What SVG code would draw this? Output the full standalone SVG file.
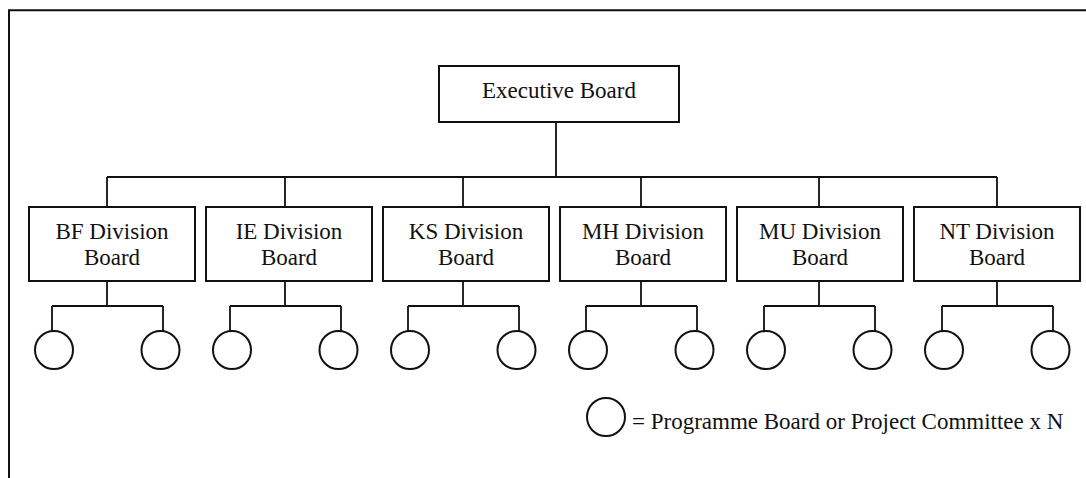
<svg xmlns="http://www.w3.org/2000/svg" width="1086" height="478" viewBox="0 0 1086 478">
  <style>
    text { font-family: "Liberation Serif", "Times New Roman", "DejaVu Serif", serif; font-size: 23px; fill: #111; text-anchor: middle; }
    .box { fill: #fff; stroke: #111; stroke-width: 2; }
    .link { fill: none; stroke: #111; stroke-width: 1.8; }
    .unit { fill: #fff; stroke: #111; stroke-width: 2; }
    .frame { fill: none; stroke: #111; stroke-width: 2; }
  </style>
  <defs>
    <!-- one division: drop from bus, box, sub-bus and two programme circles (local x = drop line) -->
    <g id="subtree">
      <path class="link" d="M0,177 V207 M0,281 V306 M-55,306 H56 M-55,306 V331 M56,306 V331"/>
      <circle class="unit" cx="-53" cy="350" r="19"/>
      <circle class="unit" cx="53.5" cy="350" r="19"/>
    </g>
  </defs>

  <rect width="1086" height="478" fill="#fff"/>
  <!-- page frame (open at right and bottom) -->
  <path class="frame" d="M9,478 V10.3 H1086"/>

  <g id="connectors">
    <path class="link" d="M556,122 V177 M107,177 H997"/>
    <use href="#subtree" x="107"/>
    <use href="#subtree" x="285"/>
    <use href="#subtree" x="463"/>
    <use href="#subtree" x="641"/>
    <use href="#subtree" x="819"/>
    <use href="#subtree" x="997"/>
  </g>

  <g id="executive-board">
    <rect class="box" x="439" y="66" width="240" height="56"/>
    <text x="559" y="98">Executive Board</text>
  </g>

  <g id="bf-division">
    <rect class="box" x="29" y="207" width="166" height="74"/>
    <text x="112" y="239">BF Division</text>
    <text x="112" y="265">Board</text>
  </g>
  <g id="ie-division">
    <rect class="box" x="206" y="207" width="166" height="74"/>
    <text x="289" y="239">IE Division</text>
    <text x="289" y="265">Board</text>
  </g>
  <g id="ks-division">
    <rect class="box" x="383" y="207" width="166" height="74"/>
    <text x="466" y="239">KS Division</text>
    <text x="466" y="265">Board</text>
  </g>
  <g id="mh-division">
    <rect class="box" x="560" y="207" width="166" height="74"/>
    <text x="643" y="239">MH Division</text>
    <text x="643" y="265">Board</text>
  </g>
  <g id="mu-division">
    <rect class="box" x="737" y="207" width="166" height="74"/>
    <text x="820" y="239">MU Division</text>
    <text x="820" y="265">Board</text>
  </g>
  <g id="nt-division">
    <rect class="box" x="914" y="207" width="166" height="74"/>
    <text x="997" y="239">NT Division</text>
    <text x="997" y="265">Board</text>
  </g>

  <g id="legend">
    <circle class="unit" cx="606" cy="417" r="19"/>
    <text x="632" y="429" style="text-anchor: start">= Programme Board or Project Committee x N</text>
  </g>
</svg>
